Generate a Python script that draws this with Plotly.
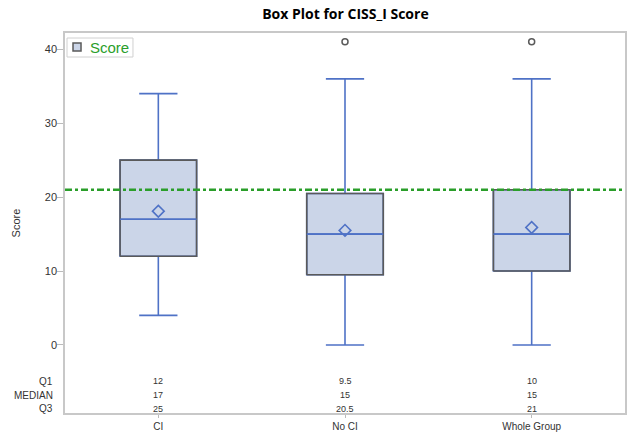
import plotly.graph_objects as go

categories = ["CI", "No CI", "Whole Group"]
q1 = [12, 9.5, 10]
median = [17, 15, 15]
q3 = [25, 20.5, 21]
lower = [4, 0, 0]
upper = [34, 36, 36]
means = [18.1, 15.5, 15.9]
outlier_x = [1, 2]
outlier_y = [41, 41]
ref_line = 21
table_rows = ["Q1", "MEDIAN", "Q3"]
table_labels = [["12", "9.5", "10"], ["17", "15", "15"], ["25", "20.5", "21"]]
table_y = [-4.9, -6.8, -8.6]
legend_label = "Score"

xs = list(range(len(categories)))
BLUE = "#4f72c6"
FILL = "#cbd5e8"
GRAY = "#5a5a5a"
GREEN = "#2a9e2a"
BW = 0.41

fig = go.Figure()
fig.add_trace(go.Box(
    x=xs, q1=q1, median=median, q3=q3, lowerfence=lower, upperfence=upper,
    fillcolor=FILL, line=dict(color=BLUE, width=1.6), whiskerwidth=0.5,
    width=BW, boxpoints=False, showlegend=False, hoverinfo="skip", name=legend_label))

# gray box outlines
ox, oy = [], []
for x, a, b in zip(xs, q1, q3):
    ox += [x - BW / 2, x + BW / 2, x + BW / 2, x - BW / 2, x - BW / 2, None]
    oy += [a, a, b, b, a, None]
fig.add_trace(go.Scatter(x=ox, y=oy, mode="lines", line=dict(color=GRAY, width=1.6),
                         showlegend=False, hoverinfo="skip"))
# median again on top
mx, my = [], []
for x, m in zip(xs, median):
    mx += [x - BW / 2, x + BW / 2, None]
    my += [m, m, None]
fig.add_trace(go.Scatter(x=mx, y=my, mode="lines", line=dict(color=BLUE, width=1.6),
                         showlegend=False, hoverinfo="skip"))
fig.add_trace(go.Scatter(x=xs, y=means, mode="markers",
                         marker=dict(symbol="diamond-open", size=9, color=BLUE, line=dict(width=1.6)),
                         showlegend=False))
fig.add_trace(go.Scatter(x=outlier_x, y=outlier_y, mode="markers",
                         marker=dict(symbol="circle-open", size=6, color=GRAY, line=dict(width=1.5)),
                         showlegend=False))

fig.add_shape(type="line", xref="paper", x0=0, x1=1, yref="y", y0=ref_line, y1=ref_line,
              line=dict(color=GREEN, width=2.5, dash="7px,3px,3px,3px"))

# legend box (drawn manually for compact SAS-like look)
fig.add_shape(type="rect", xref="paper", yref="paper", x0=0.0036, x1=0.1214, y0=0.9368, y1=0.9868,
              fillcolor="white", line=dict(color="#d0d0d0", width=1), layer="above")
fig.add_shape(type="rect", xref="paper", yref="paper", x0=0.0143, x1=0.0286, y0=0.9526, y1=0.9737,
              fillcolor=FILL, line=dict(color=GRAY, width=1.5), layer="above")
fig.add_annotation(xref="paper", yref="paper", x=0.041, y=0.9618, text=legend_label, showarrow=False,
                   xanchor="left", yanchor="middle", font=dict(size=15, color=GREEN))

for name, labels, yy in zip(table_rows, table_labels, table_y):
    fig.add_annotation(xref="paper", x=-0.018, y=yy, text=name, showarrow=False,
                       xanchor="right", font=dict(size=10, color="#333"))
    for x, t in zip(xs, labels):
        fig.add_annotation(x=x, y=yy, text=t, showarrow=False, font=dict(size=9, color="#333"))

fig.update_layout(
    width=628, height=435,
    margin=dict(l=65, r=3, t=33, b=22),
    paper_bgcolor="white", plot_bgcolor="white",
    showlegend=False,
    font=dict(family="Liberation Sans, Arial", color="#333"),
    title=dict(text="<b>Box Plot for CISS_I Score</b>", x=0.55, xanchor="center", y=0.98,
               font=dict(family="Open Sans, Liberation Sans", size=14, color="#000")),
    xaxis=dict(range=[-0.5, 2.5], tickvals=xs, ticktext=categories, showgrid=False,
               zeroline=False, showline=True, linecolor="#c8c8c8", mirror=True, linewidth=1.5,
               ticks="outside", ticklen=3, tickcolor="#bbb", tickfont=dict(size=10, color="#333"),
               automargin=False),
    yaxis=dict(range=[-9.2, 42.2], tickvals=[0, 10, 20, 30, 40], showgrid=False, zeroline=False,
               showline=True, linecolor="#c8c8c8", mirror=True, linewidth=1.5,
               ticks="outside", ticklen=6, tickcolor="#bbb", tickfont=dict(size=11, color="#333"),
               ticklabelstandoff=-2,
               title=dict(text="Score", font=dict(size=11, color="#333"), standoff=22),
               automargin=False),
)

fig.write_html("out.html", config={"displayModeBar": False},
               post_script="document.body.style.margin='0px';document.body.style.overflow='hidden';")
